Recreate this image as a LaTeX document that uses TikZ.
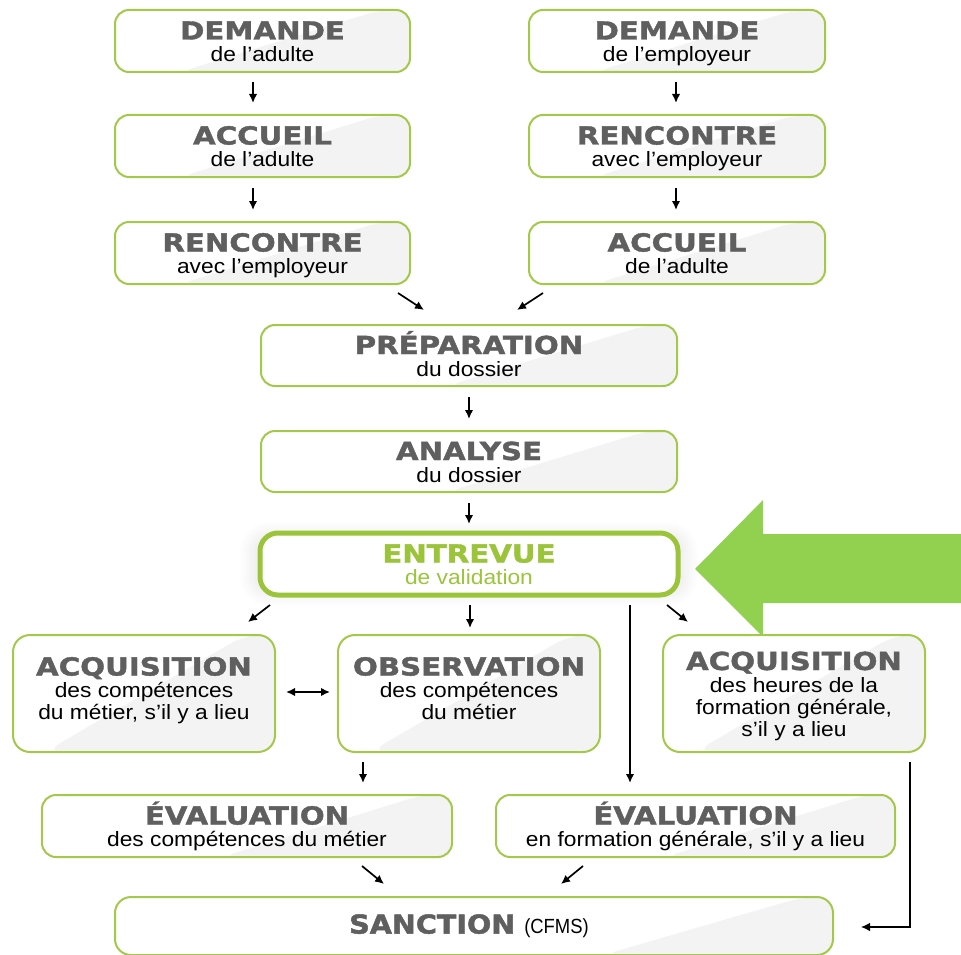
\documentclass[tikz,border=0pt]{standalone}
\usepackage{fontspec}
\usetikzlibrary{arrows.meta,calc,shadows.blur}

% Typefaces: wide heavy heads, slightly extended body text
\newfontfamily\headfamily{DejaVu Sans}[FakeStretch=1.18,FakeBold=1.6]
\newfontfamily\sancfamily{DejaVu Sans}[FakeStretch=1.1,FakeBold=1.8]
\newfontfamily\subfamily{Liberation Sans}[FakeStretch=1.1]
\newfontfamily\narrowfamily{Liberation Sans}[FakeStretch=0.9]

\definecolor{boxgreen}{HTML}{A3C84A}
\definecolor{deepgreen}{HTML}{9BC43A}
\definecolor{arrowgreen}{HTML}{92D050}
\definecolor{headgray}{HTML}{5F5F5F}
\definecolor{shadegray}{HTML}{F3F3F3}

% struts fix the height above the first baseline and the depth below the last
\newcommand\topstrut{\rule{0pt}{25pt}}
\newcommand\tailstrut{\rule[-6pt]{0pt}{6pt}}
\newcommand\hd[1]{{\topstrut\headfamily\bfseries\fontsize{24.8}{24.8}\selectfont\color{headgray}#1}}

\tikzset{
  box/.style={draw=boxgreen, line width=2pt, rounded corners=14pt, fill=white,
    minimum height=62pt, inner sep=0pt, outer sep=0pt, align=center, text=black,
    font=\subfamily\fontsize{20.7}{22}\selectfont,
    path picture={\fill[shadegray]
      ($(path picture bounding box.south east)+(-230,0)$) --
      ($(path picture bounding box.north east)+(-30,0)$) --
      (path picture bounding box.north east) --
      (path picture bounding box.south east) -- cycle;}},
  tallbox/.style={box, minimum width=262pt, minimum height=117pt, rounded corners=17pt},
  keybox/.style={draw=deepgreen, line width=5pt, rounded corners=18pt, fill=white,
    minimum width=418pt, minimum height=62pt, inner sep=0pt, outer sep=0pt, align=center,
    text=deepgreen, font=\subfamily\fontsize{20.7}{22}\selectfont,
    blur shadow={shadow xshift=0pt, shadow yshift=0pt, shadow scale=1.05,
      shadow blur steps=14, shadow blur radius=10pt, shadow opacity=7}},
  arr/.style={-{Latex[length=9pt,width=8.5pt]}, line width=1.7pt, black},
  twoarr/.style={{Latex[length=9pt,width=8.5pt]}-{Latex[length=9pt,width=8.5pt]}, line width=1.7pt, black},
}

\begin{document}
\begin{tikzpicture}[x=1pt,y=-1pt]
\useasboundingbox (0,0) rectangle (961,955);

% Large pointer towards the interview step
\fill[arrowgreen] (695,569) -- (763,500) -- (763,534) -- (961,534) -- (961,603)
  -- (763,603) -- (763,637) -- cycle;

% Left column
\node[box, minimum width=295pt] (d1) at (262.5,41) {\hd{DEMANDE}\\de l’adulte\tailstrut};
\node[box, minimum width=295pt] (a1) at (262.5,146) {\hd{ACCUEIL}\\de l’adulte\tailstrut};
\node[box, minimum width=295pt] (r1) at (262.5,253) {\hd{RENCONTRE}\\avec l’employeur\tailstrut};

% Right column
\node[box, minimum width=296pt] (d2) at (677,41) {\hd{DEMANDE}\\de l’employeur\tailstrut};
\node[box, minimum width=296pt] (r2) at (677,146) {\hd{RENCONTRE}\\avec l’employeur\tailstrut};
\node[box, minimum width=296pt] (a2) at (677,253) {\hd{ACCUEIL}\\de l’adulte\tailstrut};

% Central steps
\node[box, minimum width=416pt, minimum height=61pt] (prep) at (469,355.5) {\hd{PRÉPARATION}\\du dossier\tailstrut};
\node[box, minimum width=416pt, minimum height=61pt] (anal) at (469,461.5) {\hd{ANALYSE}\\du dossier\tailstrut};
\node[keybox] (entr) at (469,564) {{\topstrut\headfamily\bfseries\fontsize{24.8}{24.8}\selectfont ENTREVUE}\\de validation\tailstrut};

% Third row
\node[tallbox] (acq1) at (144,693.5) {\hd{ACQUISITION}\\des compétences\\du métier, s’il y a lieu\\[-11pt]\tailstrut};
\node[tallbox] (obs) at (469,693.5) {\hd{OBSERVATION}\\des compétences\\du métier\\[-11pt]\tailstrut};
\node[tallbox] (acq2) at (794,693.5) {\hd{ACQUISITION}\\des heures de la\\formation générale,\\s’il y a lieu\tailstrut};

% Evaluations
\node[box, minimum width=410pt] (ev1) at (247,826) {\hd{ÉVALUATION}\\des compétences du métier\tailstrut};
\node[box, minimum width=399pt] (ev2) at (695.5,826) {\hd{ÉVALUATION}\\en formation générale, s’il y a lieu\tailstrut};

% Final step
\node[box, minimum width=718pt, minimum height=58pt, rounded corners=16pt] (sanc) at (474,926)
  {{\sancfamily\bfseries\fontsize{26}{26}\selectfont\color{headgray}SANCTION}\hspace{9pt}{\narrowfamily\fontsize{20.5}{20.5}\selectfont (CFMS)}\hspace{10pt}};

% Connectors
\draw[arr] ([xshift=-9.5pt,yshift=-10pt]d1.south) -- ([xshift=-9.5pt,yshift=12pt]a1.north);
\draw[arr] ([xshift=-9.5pt,yshift=-11pt]a1.south) -- ([xshift=-9.5pt,yshift=12pt]r1.north);
\draw[arr] ([xshift=-1pt,yshift=-10pt]d2.south) -- ([xshift=-1pt,yshift=12pt]r2.north);
\draw[arr] ([xshift=-1pt,yshift=-11pt]r2.south) -- ([xshift=-1pt,yshift=12pt]a2.north);

\draw[arr] ($(r1.south east)+(-12,9)$) -- ($(prep.north)+(-45,-15)$);
\draw[arr] ($(a2.south west)+(14,9)$) -- ($(prep.north)+(48,-15)$);

\draw[arr] ($(prep.south)+(0,11)$) -- ($(anal.north)+(0,-12)$);
\draw[arr] ($(anal.south)+(0,11)$) -- ($(entr.north)+(0,-9)$);

\draw[arr] ($(entr.south west)+(10,10)$) -- ($(acq1.north east)+(-27,-13)$);
\draw[arr] ($(entr.south)+(1,10)$) -- ($(obs.north)+(1,-7)$);
\draw[arr] ($(entr.south east)+(-11,10)$) -- ($(acq2.north west)+(25,-13)$);
\draw[arr] ($(entr.south)+(161,10)$) coordinate (drop) -- (drop |- {$(ev2.north)+(0,-12)$});

\draw[twoarr] ($(acq1.east)+(11,-1.5)$) -- ($(obs.west)+(-8,-1.5)$);
\draw[arr] ($(obs.south)+(-106,10)$) -- ($(ev1.north)+(116,-12)$);

\draw[arr] ($(ev1.south)+(115,9)$) -- ($(sanc.north)+(-90,-13)$);
\draw[arr] ($(ev2.south)+(-112.5,9)$) -- ($(sanc.north)+(87,-13)$);
\draw[arr, line width=1.3pt] ($(acq2.south east)+(-15,10)$) |- ($(sanc.east)+(28,1)$);
\end{tikzpicture}
\end{document}
